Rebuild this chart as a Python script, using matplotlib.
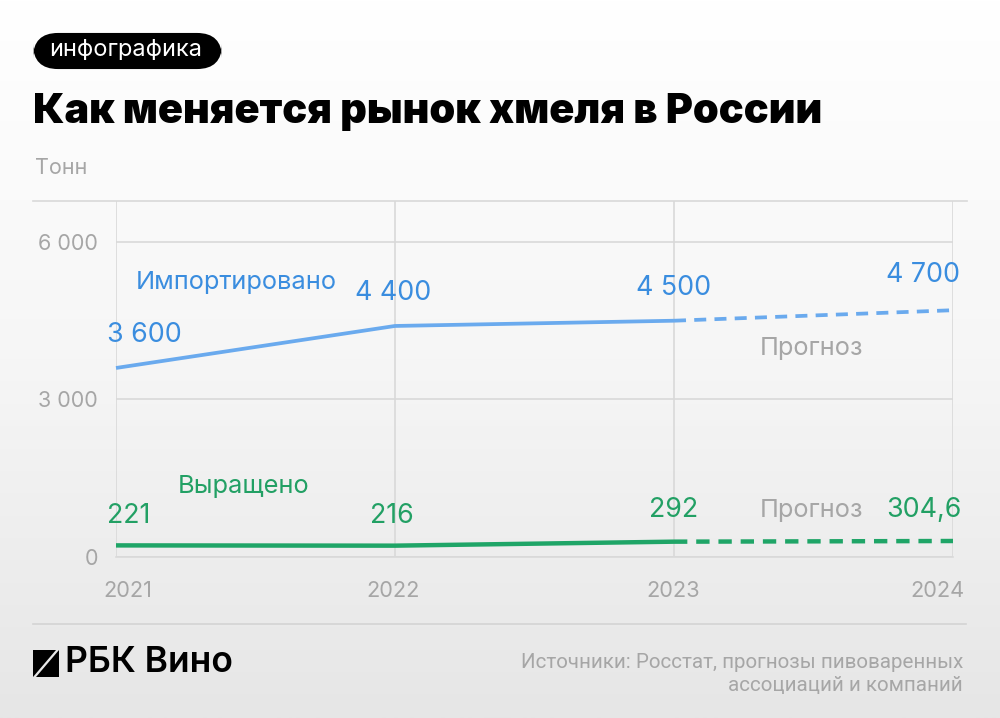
import numpy as np
import matplotlib
matplotlib.use('Agg')
import matplotlib.pyplot as plt
from matplotlib.patches import FancyBboxPatch, Polygon
from matplotlib.lines import Line2D

plt.rcParams['font.family'] = ['Inter', 'DejaVu Sans']

# data
years = [2021, 2022, 2023, 2024]
year_labels = ['2021', '2022', '2023', '2024']
imported = [3600, 4400, 4500, 4700]
grown = [221, 216, 292, 304.6]
imported_labels = ['3 600', '4 400', '4 500', '4 700']
grown_labels = ['221', '216', '292', '304,6']
y_ticks = [0, 3000, 6000]
y_tick_labels = ['0', '3 000', '6 000']

W, H = 1000, 718
BLUE_LINE = '#6aaaee'
BLUE_TEXT = '#3a8ddf'
GREEN_LINE = '#1fa567'
GREEN_TEXT = '#22a064'
GRAY = '#a6a6a6'
GRID = '#d9d9d9'


def fx(px):
    return px / W


def fy(py):
    return 1 - py / H


fig = plt.figure(figsize=(W / 100, H / 100), dpi=100)

# background gradient (white at top -> light gray at bottom)
bg = fig.add_axes([0, 0, 1, 1], zorder=-10)
grad = np.linspace(0, 1, 256).reshape(-1, 1)
bg.imshow(grad, aspect='auto', cmap=matplotlib.colors.LinearSegmentedColormap.from_list(
    'bg', ['#ffffff', '#f6f6f6', '#e6e6e6']), extent=[0, 1, 0, 1], transform=bg.transAxes)
bg.axis('off')

# main axes: 2021 at x=116, 2024 at x=953, y=0 at 557, top at 201
ax = fig.add_axes([fx(116), fy(557), fx(953) - fx(116), fy(201) - fy(557)])
ax.set_facecolor('none')
ax.set_xlim(2021, 2024)
ax.set_ylim(0, 6780)

for s in ['top', 'right', 'left']:
    ax.spines[s].set_visible(False)
ax.spines['bottom'].set_color(GRID)
ax.spines['bottom'].set_linewidth(1.2)

ax.set_yticks(y_ticks)
ax.set_yticklabels(y_tick_labels)
ax.set_xticks(years)
ax.set_xticklabels([])
ax.tick_params(axis='both', length=0)
ax.tick_params(axis='y', pad=13, labelsize=15.5, labelcolor=GRAY)
ax.grid(True, color=GRID, linewidth=1.2)
ax.set_axisbelow(True)

# top border line spanning wider than the plot
fig.add_artist(Line2D([fx(33), fx(967)], [fy(201), fy(201)], color=GRID, lw=1.2))

# lines: actual (solid) and forecast (dashed)
ax.plot(years[:3], imported[:3], color=BLUE_LINE, lw=2.7, solid_capstyle='butt', clip_on=False)
ax.plot(years[2:], imported[2:], color=BLUE_LINE, lw=2.7, ls=(0, (3.2, 2.2)), clip_on=False)
ax.plot(years[:3], grown[:3], color=GREEN_LINE, lw=3.2, solid_capstyle='butt', clip_on=False)
ax.plot(years[2:], grown[2:], color=GREEN_LINE, lw=3.2, ls=(0, (3.0, 2.0)), clip_on=False)

# value labels
imp_off = [(-9, 33, 'left'), (-2, 33, 'center'), (0, 33, 'center'), (7, 35, 'right')]
grw_off = [(-9, 29, 'left'), (-3, 30, 'center'), (0, 32, 'center'), (9, 31, 'right')]
for x, v, lab, (dx, dy, ha) in zip(years, imported, imported_labels, imp_off):
    ax.annotate(lab, (x, v), xytext=(dx, dy), textcoords='offset pixels', ha=ha, va='center',
                fontsize=19.3, color=BLUE_TEXT, annotation_clip=False)
for x, v, lab, (dx, dy, ha) in zip(years, grown, grown_labels, grw_off):
    ax.annotate(lab, (x, v), xytext=(dx, dy), textcoords='offset pixels', ha=ha, va='center',
                fontsize=19.3, color=GREEN_TEXT, annotation_clip=False)

# series names and forecast notes
fig.text(fx(136), fy(282), 'Импортировано', fontsize=18.3, color=BLUE_TEXT, ha='left', va='center')
fig.text(fx(178), fy(486), 'Выращено', fontsize=18.3, color=GREEN_TEXT, ha='left', va='center')
fig.text(fx(812), fy(348), 'Прогноз', fontsize=18.3, color=GRAY, ha='center', va='center')
fig.text(fx(812), fy(511), 'Прогноз', fontsize=18.3, color=GRAY, ha='center', va='center')

# year labels
year_pos = [(128, 'center'), (393, 'center'), (673, 'center'), (937, 'center')]
for lab, (px, ha) in zip(year_labels, year_pos):
    fig.text(fx(px), fy(591), lab, fontsize=15.7, color=GRAY, ha=ha, va='center')

# header
badge = FancyBboxPatch((fx(33) + 0.018, fy(69) + 0.025), fx(222) - fx(33) - 0.036, fy(33) - fy(69) - 0.05,
                       boxstyle='round,pad=0.018,rounding_size=0.025', transform=fig.transFigure,
                       facecolor='black', edgecolor='none', mutation_aspect=W / H)
fig.add_artist(badge)
fig.text(fx(126), fy(50), 'инфографика', fontsize=17, color='white', ha='center', va='center')
fig.text(fx(33), fy(112), 'Как меняется рынок хмеля в России', fontsize=29.8, fontweight='black',
         color='black', ha='left', va='center')
fig.text(fx(35), fy(168), 'Тонн', fontsize=15.5, color=GRAY, ha='left', va='center')

# footer
fig.add_artist(Line2D([fx(33), fx(966)], [fy(624), fy(624)], color='#d4d4d4', lw=1.2))
fig.add_artist(Polygon([[fx(33), fy(677)], [fx(33), fy(650)], [fx(56), fy(650)]],
                       closed=True, transform=fig.transFigure, facecolor='black', edgecolor='none'))
fig.add_artist(Polygon([[fx(36), fy(677)], [fx(59), fy(650)], [fx(59), fy(677)]],
                       closed=True, transform=fig.transFigure, facecolor='black', edgecolor='none'))
fig.text(fx(65), fy(663), 'РБК Вино', fontsize=25.5, fontweight='semibold', color='black', ha='left', va='center')
fig.text(fx(963), fy(662), 'Источники: Росстат, прогнозы пивоваренных', fontsize=14.8,
         family=['Liberation Sans Narrow', 'Roboto', 'DejaVu Sans'], color=GRAY, ha='right', va='center')
fig.text(fx(963), fy(686), 'ассоциаций и компаний', fontsize=14.8,
         family=['Liberation Sans Narrow', 'Roboto', 'DejaVu Sans'], color=GRAY, ha='right', va='center')

fig.savefig('out.png', dpi=100)
